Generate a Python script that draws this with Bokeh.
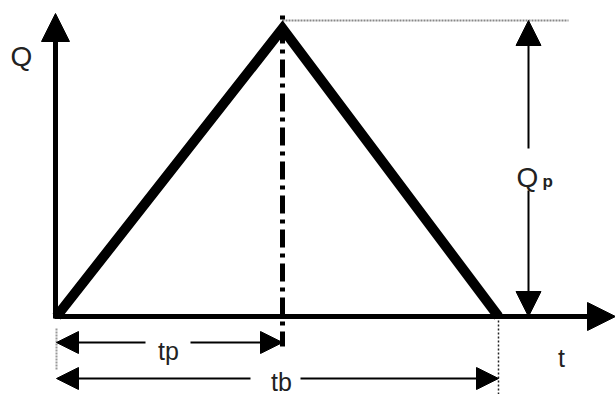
from bokeh.plotting import figure
from bokeh.models import Range1d, Arrow, NormalHead, ColumnDataSource
from bokeh.embed import file_html
from bokeh.resources import INLINE
from bokeh.core.properties import value

# Triangular hydrograph, drawing units (origin at t=0, Q=0)
tp = 226            # time to peak
tb = 442            # base time
qp = 288            # peak discharge
hydro_t = [0, tp, tb]
hydro_q = [0, qp, 0]

# axis extents
t_axis_end = 559
q_axis_end = 303

# dimension-line positions
qp_dim_t = 472       # vertical Qp dimension line
qp_ref_q = 296       # level of the thin reference line at the peak
qp_gap = [126, 168]  # gap in Qp dimension line for the label
tp_dim_q = -26
tp_gap = [89, 134]
tb_dim_q = -62
tb_gap = [194, 244]

label_text = ["Q", "t", "tp", "tb", "Q"]
label_t = [-35, 505, 112, 225, 471]
label_q = [260, -41, -34, -65, 139]
label_size = ["28px", "25px", "25px", "25px", "28px"]
sub_text = ["p"]
sub_t = [486]
sub_q = [135]

p = figure(width=615, height=394, output_backend="svg", toolbar_location=None,
           x_range=Range1d(-56, 559), y_range=Range1d(-78, 316),
           min_border=0, background_fill_color="white")
p.axis.visible = False
p.grid.visible = False
p.outline_line_color = None

# thin gray reference line at peak level
p.line([tp, qp_dim_t + 40], [qp_ref_q, qp_ref_q], line_color="#888888",
       line_width=2, line_dash="2 1")
# dotted vertical lines below axis
p.line([tb, tb], [0, -80], line_color="#222222", line_width=1.5, line_dash="2 2")
p.line([0, 0], [-12, -54], line_color="#999999", line_width=2, line_dash="2 1")
# dash-dot line through the peak
p.line([tp, tp], [301, -30], line_color="black", line_width=5,
       line_dash="4 6 18 6")

# hydrograph
p.line(hydro_t, hydro_q, line_color="black", line_width=10, line_join="miter")

# axes with arrows
axes_src = ColumnDataSource(dict(x0=[-1, -2], y0=[-2, 0],
                                 x1=[-1, t_axis_end], y1=[q_axis_end, 0]))
p.add_layout(Arrow(source=axes_src, x_start="x0", y_start="y0", x_end="x1", y_end="y1",
                   line_width=5, line_color="black",
                   end=NormalHead(size=28, fill_color="black", line_color="black", line_width=1)))

# Qp dimension
qp_src = ColumnDataSource(dict(x0=[qp_dim_t, qp_dim_t], y0=[qp_gap[1], qp_gap[0]],
                               x1=[qp_dim_t, qp_dim_t], y1=[qp_ref_q, 0]))
p.add_layout(Arrow(source=qp_src, x_start="x0", y_start="y0", x_end="x1", y_end="y1",
                   line_width=2, line_color="black",
                   end=NormalHead(size=25, fill_color="black", line_color="black", line_width=1)))

# tp / tb dimensions
t_src = ColumnDataSource(dict(x0=[tp_gap[0], tp_gap[1], tb_gap[0], tb_gap[1]],
                              y0=[tp_dim_q, tp_dim_q, tb_dim_q, tb_dim_q],
                              x1=[0, tp, 0, tb],
                              y1=[tp_dim_q, tp_dim_q, tb_dim_q, tb_dim_q]))
p.add_layout(Arrow(source=t_src, x_start="x0", y_start="y0", x_end="x1", y_end="y1",
                   line_width=2, line_color="black",
                   end=NormalHead(size=22, fill_color="black", line_color="black", line_width=1)))

# labels
lab_src = ColumnDataSource(dict(x=label_t, y=label_q, text=label_text, size=label_size))
p.text(x="x", y="y", text="text", source=lab_src, text_font=value("Liberation Sans"),
       text_font_size="size", text_align="center", text_baseline="alphabetic",
       text_color="#222222")
p.text(x=sub_t, y=sub_q, text=sub_text, text_font=value("Liberation Sans"),
       text_font_size="17px", text_font_style="bold", text_align="left",
       text_baseline="alphabetic", text_color="#222222")

open("out.html", "w").write(file_html(p, INLINE))
